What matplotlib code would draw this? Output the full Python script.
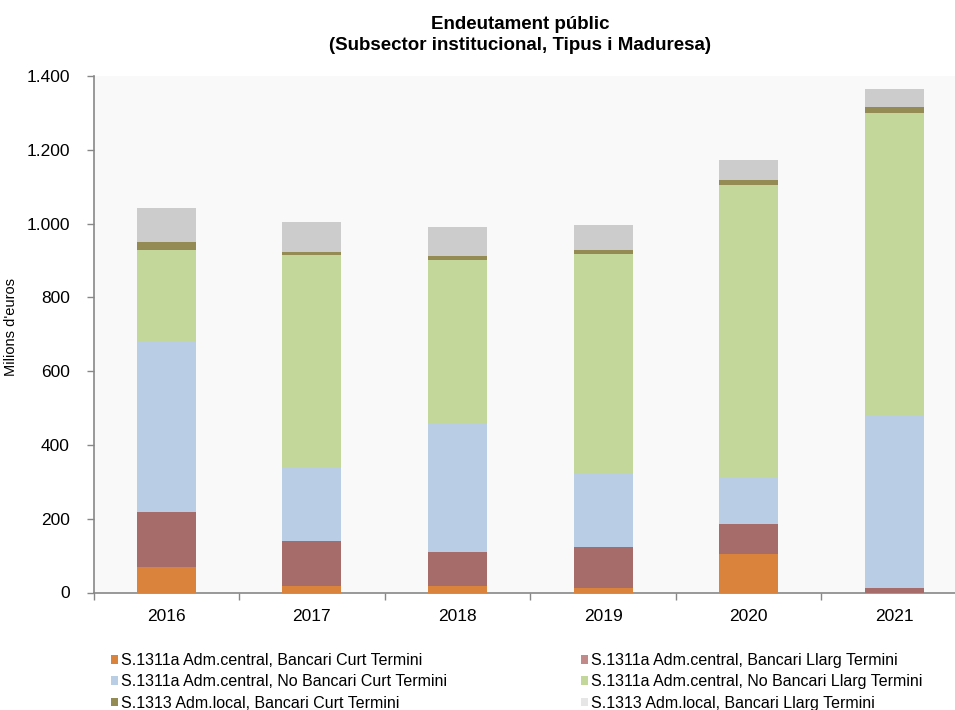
import matplotlib
matplotlib.use("Agg")
import matplotlib.pyplot as plt
from matplotlib.ticker import FuncFormatter, FixedLocator
from matplotlib.patches import Patch
import numpy as np

years = ["2016", "2017", "2018", "2019", "2020", "2021"]
series_names = [
    "S.1311a Adm.central, Bancari Curt Termini",
    "S.1311a Adm.central, Bancari Llarg Termini",
    "S.1311a Adm.central, No Bancari Curt Termini",
    "S.1311a Adm.central, No Bancari Llarg Termini",
    "S.1313 Adm.local, Bancari Curt Termini",
    "S.1313 Adm.local, Bancari Llarg Termini",
]
bancari_curt_central = [69, 18, 18, 12, 105, 0]
bancari_llarg_central = [148, 122, 92, 111, 81, 12]
nobancari_curt_central = [463, 201, 349, 202, 124, 468]
nobancari_llarg_central = [248, 573, 443, 593, 794, 820]
bancari_curt_local = [21, 10, 11, 10, 15, 15]
bancari_llarg_local = [92, 81, 77, 67, 52, 51]

values = [bancari_curt_central, bancari_llarg_central, nobancari_curt_central,
          nobancari_llarg_central, bancari_curt_local, bancari_llarg_local]
colors = ["#D9833D", "#A66C6A", "#B9CDE5", "#C4D79B", "#948A54", "#CCCCCC"]
legend_colors = ["#D9833D", "#C38A8A", "#B9CDE5", "#C4D79B", "#948A54", "#E6E6E6"]

plt.rcParams['font.family'] = ['Liberation Sans', 'DejaVu Sans']

fig = plt.figure(figsize=(9.55, 7.10), dpi=100)
W, H = 955, 710
left, right, top, bottom = 93.5, 967, 76, 592.5
ax = fig.add_axes([left / W, 1 - bottom / H, (right - left) / W, (bottom - top) / H])
ax.set_facecolor("#F9F9F9")

x = np.arange(len(years))
base = np.zeros(len(years))
for vals, c, name in zip(values, colors, series_names):
    ax.bar(x, vals, width=0.405, bottom=base, color=c, edgecolor="none",
           label=name, zorder=3)
    base = base + np.array(vals)

ax.set_xlim(-0.5, 5.5)
ax.set_ylim(0, 1400)
ax.set_yticks(np.arange(0, 1401, 200))
ax.yaxis.set_major_formatter(FuncFormatter(lambda v, p: f"{int(v):,}".replace(",", ".")))
ax.set_xticks(x)
ax.set_xticklabels(years)
ax.xaxis.set_minor_locator(FixedLocator(np.arange(-0.5, 6.0, 1.0)))
ax.tick_params(axis='x', which='major', length=0, pad=12, labelsize=12.5)
ax.tick_params(axis='x', which='minor', length=5, color="#878787", width=1)
ax.tick_params(axis='y', length=5, color="#878787", width=1, pad=12, labelsize=12.5)

for s in ["top", "right"]:
    ax.spines[s].set_visible(False)
for s in ["left", "bottom"]:
    ax.spines[s].set_color("#878787")
    ax.spines[s].set_linewidth(1.2)

ax.set_ylabel("Milions d'euros", fontsize=10.5)
ax.yaxis.set_label_coords((18.5 - left) / (right - left), (592.5 - 327) / (bottom - top))

fig.text(520 / W, 1 - 35 / H, "Endeutament públic\n(Subsector institucional, Tipus i Maduresa)",
         ha="center", va="center", fontsize=13.5, fontweight="bold", linespacing=1.3)

lh = [Patch(facecolor=c, edgecolor="none") for c in legend_colors]
font_leg = {'family': ['Liberation Sans', 'DejaVu Sans'], 'size': 11.5}
col1 = [0, 2, 4]
col2 = [1, 3, 5]
for cols, xpos in ((col1, 111), (col2, 581)):
    fig.legend([lh[i] for i in cols], [series_names[i] for i in cols],
               loc="upper left", bbox_to_anchor=(xpos / W, 1 - 653 / H),
               frameon=False, prop=font_leg, handlelength=0.45, handleheight=0.45,
               handletextpad=0.2, labelspacing=0.40, borderaxespad=0, borderpad=0)

fig.savefig("out.png", dpi=100, facecolor="white")
